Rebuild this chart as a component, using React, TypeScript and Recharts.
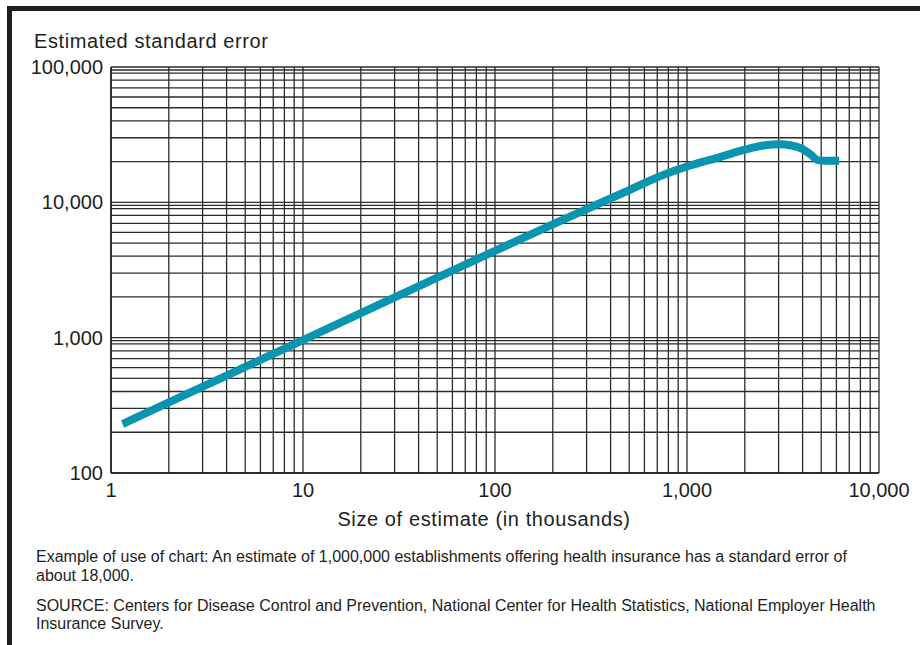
import React from "react";
import { LineChart, Line, XAxis, YAxis, CartesianGrid } from "recharts";

// Size of estimate (in thousands)
const sizes = [1.15, 2, 5, 10, 20, 50, 100, 200, 300, 500, 700, 1000, 1500, 2000, 2500, 3000, 3500, 4000, 4400, 4800, 5200, 6200];
// Estimated standard error
const errors = [230, 332, 608, 960, 1520, 2780, 4380, 6870, 8900, 12300, 15300, 18400, 21700, 24500, 26300, 26900, 26300, 24800, 22600, 20500, 20300, 20300];

const xDecades = [1, 10, 100, 1000];
const xTop = 10000;
const yDecades = [100, 1000, 10000];
const yTop = 100000;
const xSteps = [1, 2, 3, 4, 5, 6, 7, 8, 9];
const ySteps = [1, 2, 3, 4, 5, 6, 7, 8, 9, 9.5];

const xTicks = [...xDecades.flatMap((d) => xSteps.map((s) => d * s)), xTop];
const yTicks = [...yDecades.flatMap((d) => ySteps.map((s) => d * s)), yTop];

const data = sizes.map((s, i) => ({ size: s, se: errors[i] }));

const isPow10 = (v: number) => Math.abs(Math.log10(v) - Math.round(Math.log10(v))) < 1e-9;
const fmt = (v: number) => (isPow10(v) ? Math.round(v).toLocaleString("en-US") : "");

const FONT = "'Liberation Sans', Arial, Helvetica, sans-serif";
const INK = "#1e1e1e";

export default function App() {
  const tickStyle = { fontSize: 20, fill: INK, fontFamily: FONT };
  const note: React.CSSProperties = {
    position: "absolute",
    left: 36,
    fontSize: 16,
    lineHeight: "19px",
    color: INK,
    whiteSpace: "nowrap",
  };
  return (
    <div
      style={{
        position: "absolute",
        left: 0,
        top: 0,
        width: 920,
        height: 645,
        overflow: "hidden",
        background: "#fff",
        fontFamily: FONT,
      }}
    >
      <div
        style={{
          position: "absolute",
          left: 7,
          top: 6,
          width: 1000,
          height: 1000,
          borderTop: `5px solid ${INK}`,
          borderLeft: `5px solid ${INK}`,
        }}
      />
      <div style={{ position: "absolute", left: 34, top: 29, fontSize: 20, lineHeight: "24px", letterSpacing: 0.6, color: INK, whiteSpace: "nowrap" }}>
        Estimated standard error
      </div>
      <div style={{ position: "absolute", left: 0, top: 0 }}>
        <LineChart width={920} height={645} data={data} margin={{ top: 67, right: 41, bottom: 132, left: 0 }}>
          <CartesianGrid stroke="#2b2b2b" strokeWidth={1.3} horizontal vertical />
          <XAxis
            dataKey="size"
            type="number"
            scale="log"
            domain={[1, 10000]}
            ticks={xTicks}
            interval={0}
            tickFormatter={fmt}
            tick={tickStyle}
            tickLine={false}
            tickSize={0}
            tickMargin={10}
            height={40}
            axisLine={{ stroke: INK, strokeWidth: 1.5 }}
            allowDataOverflow
          />
          <YAxis
            type="number"
            scale="log"
            domain={[100, 100000]}
            ticks={yTicks}
            interval={0}
            tickFormatter={fmt}
            tick={tickStyle}
            tickLine={false}
            tickSize={0}
            tickMargin={8}
            width={111}
            axisLine={{ stroke: INK, strokeWidth: 1.5 }}
            allowDataOverflow
          />
          <Line
            dataKey="se"
            type="monotone"
            stroke="#0994af"
            strokeWidth={8}
            strokeLinecap="butt"
            dot={false}
            activeDot={false}
            isAnimationActive={false}
          />
        </LineChart>
      </div>
      <div style={{ position: "absolute", left: 0, width: 968, top: 507, textAlign: "center", fontSize: 20, lineHeight: "24px", letterSpacing: 0.6, color: INK, whiteSpace: "nowrap" }}>
        Size of estimate (in thousands)
      </div>
      <div style={{ ...note, top: 547 }}>
        Example of use of chart: An estimate of 1,000,000 establishments offering health insurance has a standard error of
      </div>
      <div style={{ ...note, top: 566 }}>about 18,000.</div>
      <div style={{ ...note, top: 596 }}>
        SOURCE: Centers for Disease Control and Prevention, National Center for Health Statistics, National Employer Health
      </div>
      <div style={{ ...note, top: 614 }}>Insurance Survey.</div>
    </div>
  );
}
